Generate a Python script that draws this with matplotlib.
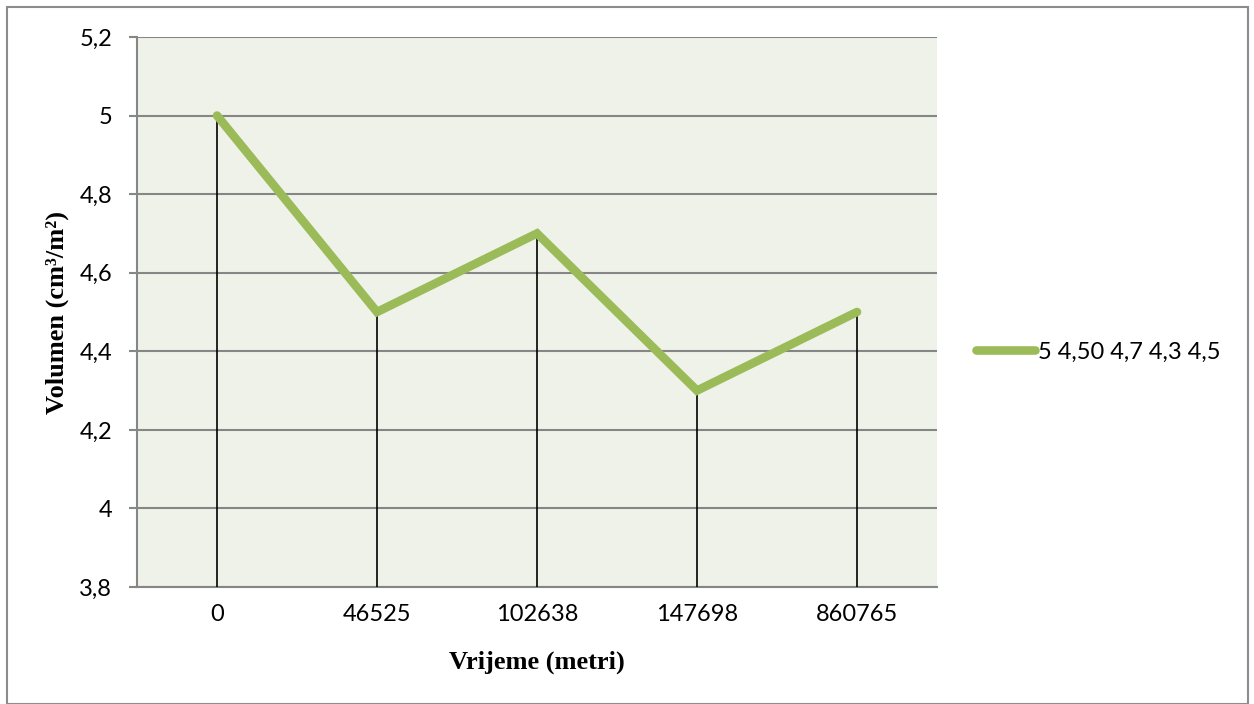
import matplotlib.pyplot as plt
from matplotlib.patches import Rectangle

# chart data
categories = ['0', '46525', '102638', '147698', '860765']
volumen = [5.0, 4.5, 4.7, 4.3, 4.5]
series_label = '5 4,50 4,7 4,3 4,5'
y_ticks = [3.8, 4.0, 4.2, 4.4, 4.6, 4.8, 5.0, 5.2]

line_color = '#9BBB59'
grid_color = '#868686'
tick_font = {'family': 'Lato', 'size': 17}

fig = plt.figure(figsize=(12.54, 7.04), dpi=100)
ax = fig.add_axes([137 / 1254, 1 - 587 / 704, 800 / 1254, 550 / 704])
ax.set_facecolor('#EFF2E8')

# outer chart border
fig.patches.append(Rectangle((7 / 1254, 0.5 / 704), 1241 / 1254, 697 / 704,
                             transform=fig.transFigure, fill=False,
                             edgecolor='#8C8C8C', linewidth=1.5))

x = list(range(len(categories)))

# drop lines
ax.vlines(x, 3.8, volumen, colors='black', linewidth=1.2, zorder=3)
ax.plot(x, volumen, color=line_color, linewidth=6.2, solid_capstyle='round',
        solid_joinstyle='miter', label=series_label, zorder=4)

ax.set_xlim(-0.5, len(categories) - 0.5)
ax.set_ylim(3.8, 5.2)
ax.set_yticks(y_ticks)
ax.set_yticklabels([('%g' % v).replace('.', ',') for v in y_ticks], fontdict=tick_font)
ax.set_xticks(x)
ax.set_xticklabels(categories, fontdict=tick_font)
ax.tick_params(axis='x', length=0, pad=12)
ax.tick_params(axis='y', length=6, width=1.5, color=grid_color, pad=12)

ax.grid(axis='y', color=grid_color, linewidth=1.5)
ax.set_axisbelow(True)
for side in ['top', 'right']:
    ax.spines[side].set_visible(False)
for side in ['left', 'bottom']:
    ax.spines[side].set_color(grid_color)
    ax.spines[side].set_linewidth(1.5)

ax.set_xlabel('Vrijeme (metri)', fontfamily='Liberation Serif', fontweight='bold',
              fontsize=19, labelpad=19)
ax.set_ylabel('Volumen (cm³/m²)', fontfamily='Liberation Serif', fontweight='bold',
              fontsize=19, labelpad=7)

fig.legend(loc='center left', bbox_to_anchor=(955 / 1254, 1 - 352 / 704),
           frameon=False, handlelength=2.5, handletextpad=0.1,
           prop=tick_font)

fig.savefig('out.png', dpi=100)
